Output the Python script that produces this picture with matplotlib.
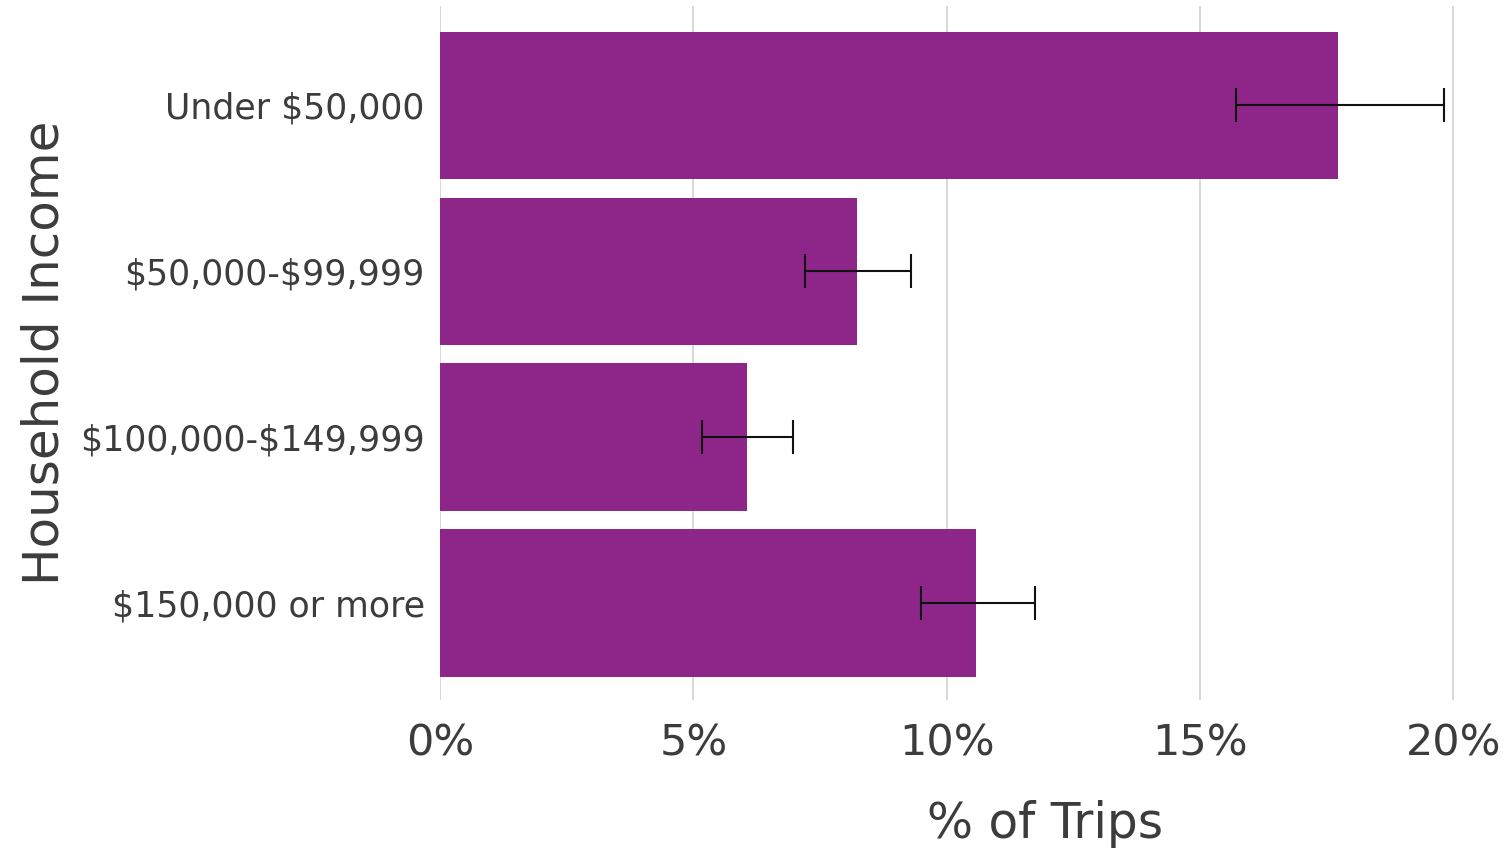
import matplotlib
matplotlib.use("Agg")
import matplotlib.pyplot as plt
from matplotlib.ticker import PercentFormatter

# datos (en %)
categorias = ["Under $50,000", "$50,000-$99,999", "$100,000-$149,999", "$150,000 or more"]
porcentaje = [17.73, 8.23, 6.05, 10.58]
limite_inf = [15.70, 7.20, 5.18, 9.49]
limite_sup = [19.81, 9.30, 6.97, 11.74]
ticks_x = [0, 5, 10, 15, 20]

morado = "#8e2689"
texto = "#3c3c3c"

plt.rcParams["font.family"] = ["DejaVu Sans"]

fig = plt.figure(figsize=(15.11, 8.58), dpi=100)
W, H = 1511, 858
x0, escala = 440, 50.67
xmax = 20.2
ax = fig.add_axes([x0 / W, 1 - 700 / H, xmax * escala / W, 694 / H])

pos = list(range(len(categorias)))
err = [[p - lo for p, lo in zip(porcentaje, limite_inf)],
       [hi - p for p, hi in zip(porcentaje, limite_sup)]]

ax.barh(pos, porcentaje, height=0.89, color=morado, zorder=2)
ax.errorbar(porcentaje, pos, xerr=err, fmt="none", ecolor="#111111",
            elinewidth=1.5, capsize=12, capthick=1.5, zorder=3)

ax.set_xlim(0, xmax)
ax.set_ylim(3.585, -0.60)
ax.set_xticks(ticks_x)
ax.xaxis.set_major_formatter(PercentFormatter(decimals=0))
ax.set_yticks(pos)
# los $ se escapan para que no se interpreten como mathtext
ax.set_yticklabels([c.replace("$", r"\$") for c in categorias])

ax.grid(axis="x", color="#d4d4d4", linewidth=1.3)
ax.grid(axis="y", visible=False)
ax.set_axisbelow(True)
for s in ax.spines.values():
    s.set_visible(False)

ax.tick_params(axis="x", length=0, pad=16, labelsize=31, labelcolor=texto)
ax.tick_params(axis="y", length=0, pad=11, labelsize=25, labelcolor=texto)

ax.set_xlabel("% of Trips", fontsize=35, color=texto, labelpad=26, x=(1045 - x0) / (xmax * escala))
ax.set_ylabel("Household Income", fontsize=36, color=texto, labelpad=8)

fig.savefig("out.png", dpi=100)
